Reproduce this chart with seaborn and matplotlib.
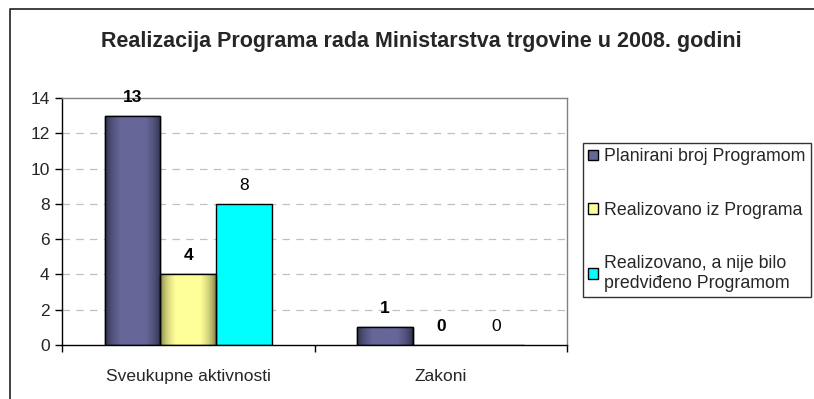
import numpy as np
import pandas as pd
import matplotlib
matplotlib.use("Agg")
import matplotlib.pyplot as plt
from matplotlib.lines import Line2D
from matplotlib.colors import to_rgb
import seaborn as sns

# Data
categories = ["Sveukupne aktivnosti", "Zakoni"]
series = [
    "Planirani broj Programom",
    "Realizovano iz Programa",
    "Realizovano, a nije bilo\npredviđeno Programom",
]
planned = [13, 1]
realized = [4, 0]
unplanned = [8, 0]
y_ticks = [0, 2, 4, 6, 8, 10, 12, 14]
title = "Realizacija Programa rada Ministarstva trgovine u 2008. godini"

# Styling
colors = ["#666699", "#ffff99", "#00ffff"]
edge_colors = ["#25253c", "#6e6e3a", None]   # gradient edge shade, None = flat fill
label_bold = [True, True, False]

sns.set_theme(style="white")
plt.rcParams["font.family"] = ["Liberation Sans", "DejaVu Sans"]

df = pd.DataFrame({
    "category": categories * 3,
    "series": [s for s in series for _ in categories],
    "value": planned + realized + unplanned,
})

fig = plt.figure(figsize=(8.14, 3.99), dpi=100)
ax = fig.add_axes([62 / 814, 1 - 345 / 399, (567 - 62) / 814, (345 - 98) / 399])

sns.barplot(
    data=df, x="category", y="value", hue="series", hue_order=series,
    order=categories, palette=colors, width=0.66, gap=0,
    edgecolor="black", linewidth=1.0, saturation=1, ax=ax, legend=True,
    err_kws={"linewidth": 0},
)

# Horizontal shading across the shaded bars
for cont, c_mid, c_edge in zip(ax.containers, colors, edge_colors):
    if c_edge is None:
        continue
    mid = np.array(to_rgb(c_mid))
    edge = np.array(to_rgb(c_edge))
    t = np.linspace(0, 1, 64)
    f = np.clip(np.sin(np.pi * t) ** 0.55 * 1.15, 0, 1)
    grad = edge[None, :] + (mid - edge)[None, :] * f[:, None]
    img = grad[None, :, :]
    for bar in cont:
        h = bar.get_height()
        if h <= 0:
            continue
        x0 = bar.get_x()
        w = bar.get_width()
        im = ax.imshow(img, extent=[x0, x0 + w, 0, h], aspect="auto",
                       interpolation="bilinear", zorder=bar.get_zorder())
        im.set_clip_path(bar)
        # redraw the outline on top of the shading
        ax.add_patch(plt.Rectangle((x0, 0), w, h, fill=False,
                                   edgecolor="black", linewidth=1.0,
                                   zorder=bar.get_zorder() + 0.1))

# Value labels
for cont, bold in zip(ax.containers, label_bold):
    texts = ax.bar_label(cont, labels=[f"{v:g}" for v in cont.datavalues],
                         padding=8, fontsize=12.5)
    for t in texts:
        t.set_fontweight("bold" if bold else "normal")
        t.set_color("black")

ax.set_xlim(-0.5, 1.5)
ax.set_ylim(0, 14)
ax.set_yticks(y_ticks)
ax.set_xlabel("")
ax.set_ylabel("")

# Gridlines and frame
for y in y_ticks[1:-1]:
    ax.axhline(y, color="#c0c0c0", linestyle=(0, (6, 5)), linewidth=0.9, zorder=0)
ax.spines["top"].set_color("#808080")
ax.spines["right"].set_color("#808080")
ax.spines["left"].set_color("black")
ax.spines["bottom"].set_color("black")
for s in ax.spines.values():
    s.set_linewidth(1.0)

ax.tick_params(axis="y", direction="out", length=5, width=1, color="black",
               labelsize=12.5, pad=4, left=True)
ax.set_xticks([0, 1])
ax.set_xticklabels(categories)
ax.tick_params(axis="x", length=0, labelsize=12.5, pad=17)
ax.set_xticks([-0.5, 0.5, 1.5], minor=True)
ax.tick_params(axis="x", which="minor", direction="out", length=5, width=1,
               color="black", bottom=True)

# Legend
handles, labels = ax.get_legend_handles_labels()
ax.legend_.remove()
leg = fig.legend(handles, labels, loc="upper left",
                 bbox_to_anchor=(583 / 814, 1 - 143 / 399),
                 frameon=True, fancybox=False, edgecolor="black",
                 fontsize=12.8, handlelength=0.55, handleheight=0.55,
                 handletextpad=0.35, labelspacing=2.05, borderpad=0.3,
                 borderaxespad=0)
leg.get_frame().set_linewidth(1.0)
for h in leg.legend_handles:
    h.set_edgecolor("black")
    h.set_linewidth(1.0)

fig.text(421 / 814, 1 - 41 / 399, title, ha="center", va="center",
         fontsize=15.5, fontweight="bold")

# Chart area border
fig.add_artist(Line2D([10 / 814, 10 / 814, 1.0], [0.0, 1 - 9 / 399, 1 - 9 / 399],
                      transform=fig.transFigure, color="#202020", linewidth=1.2))

fig.savefig("out.png", dpi=100)
